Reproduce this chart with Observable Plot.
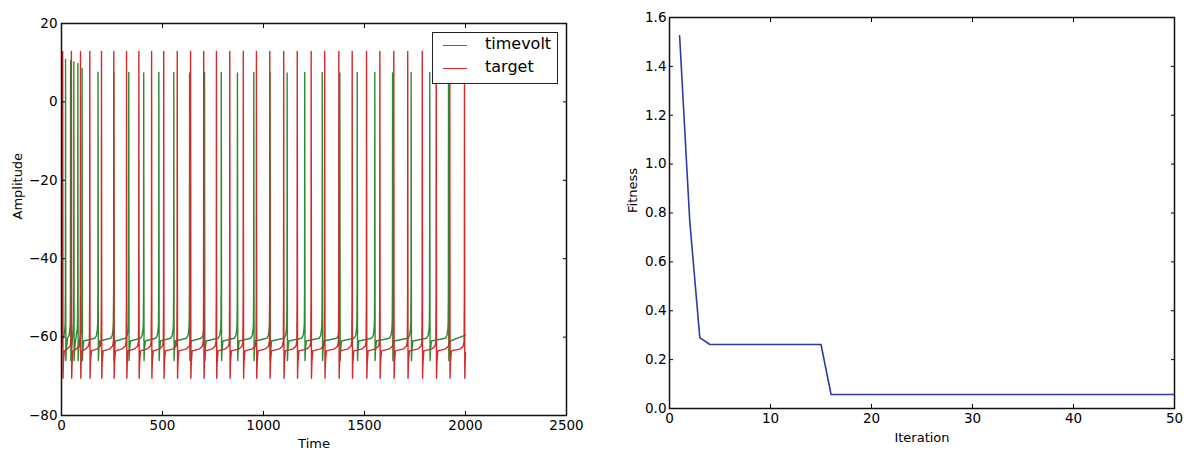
<!DOCTYPE html>
<html>
<head>
<meta charset="utf-8">
<script src="https://cdn.jsdelivr.net/npm/d3@7"></script>
<script src="https://cdn.jsdelivr.net/npm/@observablehq/plot@0.6"></script>
<style>
  body { margin: 0; background: #fff; font-family: "DejaVu Sans", sans-serif; }
  #wrap { position: relative; width: 1190px; height: 450px; overflow: hidden; }
  #left { position: absolute; left: 0; top: 0; }
  #right { position: absolute; left: 600px; top: 0; }
  .legend { position: absolute; left: 432px; top: 32px; width: 126px; height: 52px; border: 1.3px solid #222; background: #fff; box-sizing: border-box; }
  .legend .sw { position: absolute; left: 10px; width: 24px; height: 0; border-top: 1.6px solid; }
  .legend .lb { position: absolute; left: 52px; font-size: 16px; line-height: 16px; color: #000; }
</style>
</head>
<body>
<div id="wrap">
  <div id="left"></div>
  <div id="right"></div>
  <div class="legend" id="legend"></div>
</div>
<script>
// ---------- Left panel data ----------
const seriesNames = ["timevolt", "target"];
const seriesColors = ["#2e8b34", "#d12b2b"];
const traceEnd = 2000;

// spike times (ms) and peak voltages
const greenSpikeTimes = [20, 45, 61, 81, 102, 181, 259, 333, 407, 482, 556, 634, 708, 791, 871, 952, 1032, 1117, 1204, 1291, 1378, 1464, 1551, 1639, 1731, 1823, 1916];
const greenPeaks = [10.8, 10.6, 10.2, 9.8, 8.5, 7.6, 7.5, 7.5, 7.4, 7.5, 7.5, 7.4, 7.5, 7.5, 7.4, 7.5, 7.5, 7.4, 7.5, 7.5, 7.4, 7.5, 7.5, 7.4, 7.5, 7.5, 7.4];
const redSpikeTimes = [6, 49, 94, 140, 198, 259, 322, 383, 446, 506, 573, 639, 704, 767, 833, 900, 965, 1031, 1100, 1167, 1236, 1303, 1373, 1439, 1510, 1576, 1645, 1714, 1786, 1855, 1922, 1995];
const redPeaks = [12.9, 12.9, 12.9, 12.9, 12.9, 12.9, 12.9, 12.9, 12.9, 12.9, 12.9, 12.9, 12.9, 12.9, 12.9, 12.9, 12.9, 12.9, 12.9, 12.9, 12.9, 12.9, 12.9, 12.9, 12.9, 12.9, 12.9, 12.9, 12.9, 12.9, 12.9, 12.9];

// spike waveform shape around each spike (offset ms, voltage); null = peak
const greenShapeDt = [-16, -8, -4, -1.8, -0.7, 0, 0.7, 1.5, 3.5, 8];
const greenShapeV  = [-60.3, -59.6, -58.3, -56.5, -48, null, -25, -66, -63.5, -61];
const redShapeDt = [-20, -6, -2, -0.7, 0, 0.7, 1.5, 3.5, 8];
const redShapeV  = [-63, -62.3, -61, -50, null, -25, -70.5, -66.5, -63.5];
const startV = [-60, -62.5];
const endV = [-59.5, -64];

const xTicksLeft = [0, 500, 1000, 1500, 2000, 2500];
const yTicksLeft = [-80, -60, -40, -20, 0, 20];

// ---------- Right panel data ----------
const iterations = d3.range(1, 51);
const fitness = [1.525, 0.77, 0.29, 0.262, 0.262, 0.262, 0.262, 0.262, 0.262, 0.262,
                 0.262, 0.262, 0.262, 0.262, 0.262, 0.057, 0.057, 0.057, 0.057, 0.057,
                 0.057, 0.057, 0.057, 0.057, 0.057, 0.057, 0.057, 0.057, 0.057, 0.057,
                 0.057, 0.057, 0.057, 0.057, 0.057, 0.057, 0.057, 0.057, 0.057, 0.057,
                 0.057, 0.057, 0.057, 0.057, 0.057, 0.057, 0.057, 0.057, 0.057, 0.057];
const xTicksRight = [0, 10, 20, 30, 40, 50];
const yTicksRight = [0, 0.2, 0.4, 0.6, 0.8, 1.0, 1.2, 1.4, 1.6];

// ---------- build traces ----------
function buildTrace(times, peaks, dts, vs, v0, v1, name) {
  const pts = [{t: 0, v: v0, series: name}];
  times.forEach((s, i) => {
    dts.forEach((d, j) => {
      const t = s + d;
      if (t > pts[pts.length - 1].t && t <= traceEnd) {
        pts.push({t, v: vs[j] === null ? peaks[i] : vs[j], series: name});
      }
    });
  });
  if (pts[pts.length - 1].t < traceEnd) pts.push({t: traceEnd, v: v1, series: name});
  return pts;
}
const traces = [
  ...buildTrace(greenSpikeTimes, greenPeaks, greenShapeDt, greenShapeV, startV[0], endV[0], seriesNames[0]),
  ...buildTrace(redSpikeTimes, redPeaks, redShapeDt, redShapeV, startV[1], endV[1], seriesNames[1])
];
const fitData = iterations.map((it, i) => ({it, f: fitness[i]}));

const fontStyle = {fontFamily: "'DejaVu Sans', sans-serif", fontSize: "13.5px", color: "#000", background: "#fff", overflow: "visible"};
const blank = () => "";

function tickMarks(xt, yt) {
  return [
    Plot.axisX(xt, {anchor: "bottom", tickSize: 4, dy: -4, tickFormat: blank, stroke: "#000"}),
    Plot.axisX(xt, {anchor: "top", tickSize: 4, dy: 4, tickFormat: blank, stroke: "#000"}),
    Plot.axisY(yt, {anchor: "left", tickSize: 4, dx: 4, tickFormat: blank, stroke: "#000"}),
    Plot.axisY(yt, {anchor: "right", tickSize: 4, dx: -4, tickFormat: blank, stroke: "#000"})
  ];
}

const left = Plot.plot({
  width: 590, height: 450,
  marginLeft: 61, marginRight: 24, marginTop: 23, marginBottom: 35,
  style: fontStyle,
  x: {domain: [0, 2500], label: null},
  y: {domain: [-80, 20], label: null},
  color: {domain: seriesNames, range: seriesColors},
  marks: [
    Plot.line(traces, {x: "t", y: "v", z: "series", stroke: "series", strokeWidth: 1.4, curve: "linear"}),
    ...tickMarks(xTicksLeft, yTicksLeft),
    Plot.axisX(xTicksLeft, {anchor: "bottom", tickSize: 0, tickPadding: 5, tickFormat: d => d3.format("d")(d), label: null}),
    Plot.axisY(yTicksLeft, {anchor: "left", tickSize: 0, tickPadding: 4, tickFormat: d => (d < 0 ? "\u2212" + Math.abs(d) : String(d)), label: null}),
    Plot.frame({stroke: "#111", strokeWidth: 1.5}),
    Plot.text(["Time"], {frameAnchor: "bottom", dy: 28, text: d => d, fontSize: 13, lineAnchor: "middle"}),
    Plot.text(["Amplitude"], {frameAnchor: "left", dx: -44, rotate: -90, text: d => d, fontSize: 13, lineAnchor: "middle"})
  ]
});
document.getElementById("left").appendChild(left);

const right = Plot.plot({
  width: 590, height: 450,
  marginLeft: 69, marginRight: 16, marginTop: 17, marginBottom: 42,
  style: fontStyle,
  x: {domain: [0, 50], label: null},
  y: {domain: [0, 1.6], label: null},
  marks: [
    Plot.line(fitData, {x: "it", y: "f", stroke: "#2f3aa6", strokeWidth: 1.6}),
    ...tickMarks(xTicksRight, yTicksRight),
    Plot.axisX(xTicksRight, {anchor: "bottom", tickSize: 0, tickPadding: 5, tickFormat: d3.format("d"), label: null}),
    Plot.axisY(yTicksRight, {anchor: "left", tickSize: 0, tickPadding: 3, tickFormat: d3.format(".1f"), label: null}),
    Plot.frame({stroke: "#111", strokeWidth: 1.5}),
    Plot.text(["Iteration"], {frameAnchor: "bottom", dy: 29, text: d => d, fontSize: 13, lineAnchor: "middle"}),
    Plot.text(["Fitness"], {frameAnchor: "left", dx: -37, rotate: -90, text: d => d, fontSize: 13, lineAnchor: "middle"})
  ]
});
document.getElementById("right").appendChild(right);

// legend
const lg = document.getElementById("legend");
seriesNames.forEach((name, i) => {
  const top = i === 0 ? 12 : 35;
  const sw = document.createElement("div");
  sw.className = "sw";
  sw.style.top = top + "px";
  sw.style.borderTopColor = seriesColors[i];
  lg.appendChild(sw);
  const lb = document.createElement("div");
  lb.className = "lb";
  lb.style.top = (top - 9) + "px";
  lb.textContent = name;
  lg.appendChild(lb);
});
</script>
</body>
</html>
